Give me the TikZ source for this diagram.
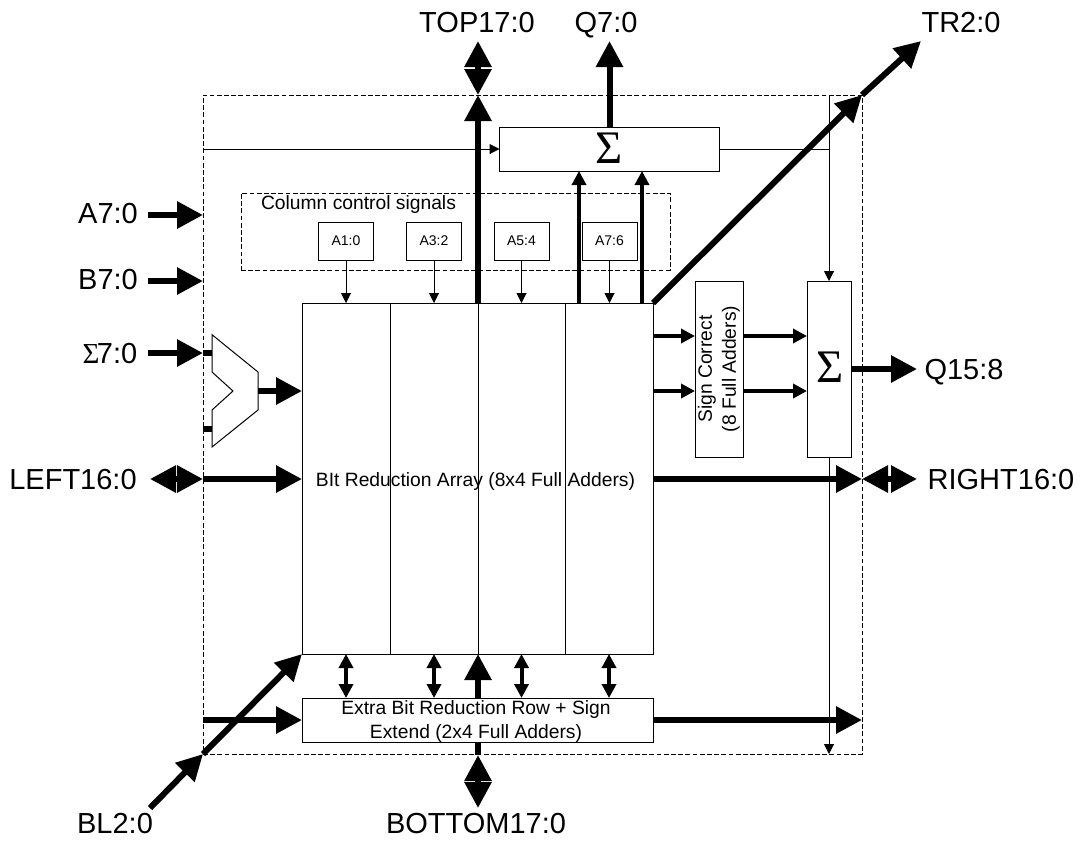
\documentclass[tikz,border=0pt]{standalone}
\usepackage{fontspec}
\setmainfont{Liberation Sans}
\newfontfamily\serifsym{Liberation Serif}
\usetikzlibrary{arrows.meta}
\newcommand{\bigsize}{\fontsize{21.75pt}{26pt}\selectfont}
\newcommand{\midsize}{\fontsize{14.45pt}{18pt}\selectfont}
\newcommand{\smallsize}{\fontsize{10.5pt}{12pt}\selectfont}
\tikzset{
  pxsize/.style 2 args={minimum width=#1*0.75pt, minimum height=#2*0.75pt},
  blockbox/.style={draw=black, fill=white, line width=0.75pt, inner sep=0pt, outer sep=0pt, align=center, font=\midsize},
  smallbox/.style={blockbox, font=\smallsize},
  dashedbox/.style={draw=black, line width=0.75pt, dash pattern=on 3.6pt off 1.8pt, inner sep=0pt, outer sep=0pt},
  portlabel/.style={font=\bigsize, anchor=base, inner sep=0pt},
  midlabel/.style={font=\midsize, anchor=base, inner sep=0pt, align=center},
  sumsign/.style={font=\serifsym\fontsize{35pt}{38pt}\selectfont},
  thinarrow/.style={draw=black, line width=0.75pt, -{Triangle[length=7.5pt,width=7.5pt]}},
  thinplain/.style={draw=black, line width=0.75pt},
  medarrow/.style={draw=black, line width=3pt, -{Triangle[length=10.5pt,width=10.5pt]}},
  meddouble/.style={draw=black, line width=3pt, {Triangle[length=10.5pt,width=10.5pt]}-{Triangle[length=10.5pt,width=10.5pt]}},
  thickarrow/.style={draw=black, line width=4.5pt, -{Triangle[length=19.5pt,width=19.5pt]}},
  thickdouble/.style={draw=black, line width=4.5pt, {Triangle[length=19.5pt,width=19.5pt]}-{Triangle[length=19.5pt,width=19.5pt]}},
  thickplain/.style={draw=black, line width=4.5pt},
  muxshape/.style={draw=black, fill=white, line width=0.75pt, line join=miter}
}
\begin{document}
\begin{tikzpicture}[x=0.75pt,y=-0.75pt]
\useasboundingbox (0,0) rectangle (1080,840);
\fill[white] (0,0) rectangle (1080,840);

% chip outline and control region
\node[dashedbox, pxsize={659}{659}] (chip) at (532.5,424.5) {};
\node[dashedbox, pxsize={429}{77}] (ctrl) at (455.5,231.5) {};
\node[midlabel] (ctrltext) at (358.5,209.5) {Column control signals};

% free ends
\coordinate (topout) at (478,41);
\coordinate (topmid) at (478,95);
\coordinate (qout) at (609.5,41);
\coordinate (trout) at (921,41);
\coordinate (trmid) at (862,95);
\coordinate (ain) at (148,215);
\coordinate (aend) at (203,215);
\coordinate (bin) at (148,281);
\coordinate (bend) at (203,281);
\coordinate (sin) at (148,353);
\coordinate (send) at (203,353);
\coordinate (sb) at (203,429);
\coordinate (leftout) at (150,479);
\coordinate (leftmid) at (203,479);
\coordinate (rightmid) at (862,479);
\coordinate (rightout) at (917,479);
\coordinate (qhi) at (917,369);
\coordinate (xin) at (203,720);
\coordinate (xout) at (862,720);
\coordinate (blin) at (150,808);
\coordinate (blmid) at (203,754);
\coordinate (botmid) at (478,755);
\coordinate (botout) at (478,808);
\coordinate (sumin) at (203,149);
\coordinate (busx) at (829,149);
\coordinate (bustop) at (829,95);
\coordinate (busbot) at (829,754);

% thick bus lines behind the blocks
\draw[thickarrow] (478,303) -- (topmid);
\draw[thickdouble] (topout) -- (topmid);
\draw[thickarrow] (blin) -- (blmid);

% adder above
\node[blockbox, pxsize={220}{44}] (sumtop) at (609.5,149) {};
\node[sumsign] (sumtopsign) at (609,148) {Σ};

% main array
\node[blockbox, pxsize={351}{351}] (main) at (477.5,478.5) {};
\draw[thinplain] (390,303) -- (390,654);
\draw[thinplain] (478,303) -- (478,654);
\draw[thinplain] (565,303) -- (565,654);
\node[midlabel] (maintext) at (475.5,486) {BIt Reduction Array (8x4 Full Adders)};

% column blocks
\node[smallbox, pxsize={55}{38}] (a1) at (346,241) {A1:0};
\node[smallbox, pxsize={55}{38}] (a3) at (434,241) {A3:2};
\node[smallbox, pxsize={55}{38}] (a5) at (521.5,241) {A5:4};
\node[smallbox, pxsize={55}{38}] (a7) at (609.5,241) {A7:6};

% extra row
\node[blockbox, pxsize={351}{44}] (extra) at (477.5,720) {};
\node[midlabel] (extratext) at (476,738.5) {Extra Bit Reduction Row + Sign\\Extend (2x4 Full Adders)};

% sign correct and upper adder
\node[blockbox, pxsize={44}{176}] (sign) at (719,369) {\rotatebox{90}{\begin{tabular}{@{}c@{}}Sign Correct\\(8 Full Adders)\end{tabular}}};
\node[blockbox, pxsize={44}{176}] (sumr) at (829,369) {};
\node[sumsign] (sumrsign) at (830,367) {Σ};

% mux
\draw[muxshape] (212,334.7) coordinate (m1) -- (258,372) -- (258,410) coordinate (m2) -- (212,447) -- (212,410) -- (233,391) -- (212,372) -- cycle;
\coordinate (mo) at (258,391);

% thin connections
\draw[thinarrow] (sumin) -- (sumtop.west);
\draw[thinplain] (sumtop.east) -- (busx);
\draw[thinarrow] (bustop) -- (sumr.north);
\draw[thinarrow] (sumr.south) -- (busbot);
\draw[thinarrow] (a1.south) -- (a1.south |- main.north);
\draw[thinarrow] (a3.south) -- (a3.south |- main.north);
\draw[thinarrow] (a5.south) -- (a5.south |- main.north);
\draw[thinarrow] (a7.south) -- (a7.south |- main.north);

% medium connections
\draw[medarrow] (579,303) -- (579,171);
\draw[medarrow] (642,303) -- (642,171);
\draw[medarrow] (653,336) -- (sign.west |- 653,336);
\draw[medarrow] (653,391) -- (sign.west |- 653,391);
\draw[medarrow] (sign.east |- 0,336) -- (sumr.west |- 0,336);
\draw[medarrow] (sign.east |- 0,391) -- (sumr.west |- 0,391);
\draw[meddouble] (346,654) -- (346,698);
\draw[meddouble] (434,654) -- (434,698);
\draw[meddouble] (521.5,654) -- (521.5,698);
\draw[meddouble] (609,654) -- (609,698);

% thick connections
\draw[thickarrow] (sumtop.north) -- (qout);
\draw[thickarrow] (653,303) -- (trmid);
\draw[thickarrow] (trmid) -- (trout);
\draw[thickarrow] (ain) -- (aend);
\draw[thickarrow] (bin) -- (bend);
\draw[thickarrow] (sin) -- (send);
\draw[thickplain] (send) -- (m1 |- send);
\draw[thickplain] (sb) -- (m1 |- sb);
\draw[thickarrow] (mo) -- (main.west |- mo);
\draw[thickdouble] (leftout) -- (leftmid);
\draw[thickarrow] (leftmid) -- (main.west |- leftmid);
\draw[thickarrow] (main.east |- rightmid) -- (rightmid);
\draw[thickdouble] (rightmid) -- (rightout);
\draw[thickarrow] (sumr.east) -- (qhi);
\draw[thickarrow] (xin) -- (extra.west);
\draw[thickarrow] (extra.east) -- (xout);
\draw[thickarrow] (blmid) -- (main.south west);
\draw[thickarrow] (botmid |- extra.north) -- (botmid |- main.south);
\draw[thickplain] (botmid |- extra.south) -- (botmid);
\draw[thickdouble] (botmid) -- (botout);

% port labels
\node[portlabel] (ltop) at (477,32) {TOP17:0};
\node[portlabel] (lq) at (606,32) {Q7:0};
\node[portlabel] (ltr) at (961,32) {TR2:0};
\node[portlabel] (la) at (108,223.5) {A7:0};
\node[portlabel] (lb) at (108,289.5) {B7:0};
\node[portlabel] (ls) at (110,363) {{\serifsym Σ}\kern-2pt 7:0};
\node[portlabel] (lleft) at (73,489) {LEFT16:0};
\node[portlabel] (lqhi) at (964,379) {Q15:8};
\node[portlabel] (lright) at (1001,489) {RIGHT16:0};
\node[portlabel] (lbl) at (115,833) {BL2:0};
\node[portlabel] (lbot) at (476,833) {BOTTOM17:0};
\end{tikzpicture}
\end{document}
